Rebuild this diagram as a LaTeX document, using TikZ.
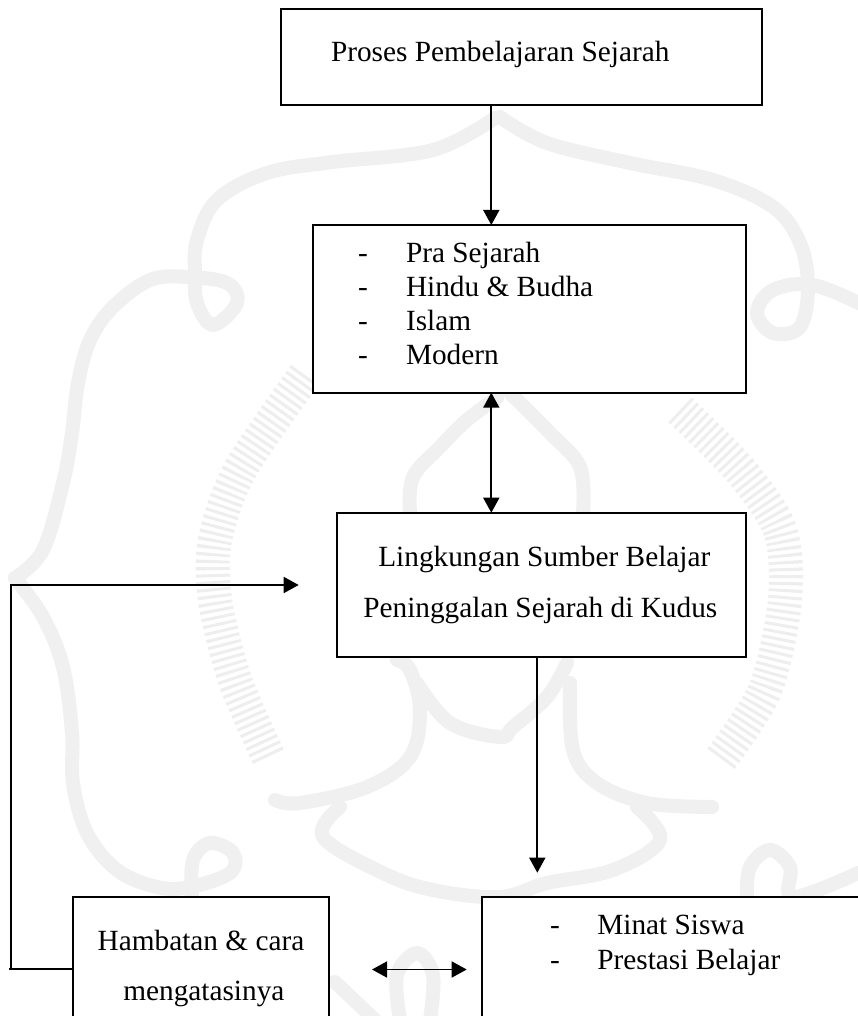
\documentclass[tikz,border=0pt]{standalone}
\usepackage{fontspec}
\setmainfont{Liberation Serif}
\usetikzlibrary{arrows.meta}
\definecolor{wmgray}{HTML}{F0F0F0}
\definecolor{wmtext}{HTML}{EEEEEE}
\tikzset{
  boxn/.style={draw=black,line width=1.9pt,fill=white,inner sep=0pt,outer sep=0pt},
  lbl/.style={anchor=base west,inner sep=0pt,outer sep=0pt,font=\fontsize{29.3}{34}\selectfont},
  conn/.style={draw=black,line width=1.7pt},
  headed/.style={-{Triangle[width=16pt,length=15pt]}},
  twohead/.style={{Triangle[width=16pt,length=15pt]}-{Triangle[width=16pt,length=15pt]}},
  wm/.style={draw=wmgray,line width=14pt,line cap=round,line join=round},
  wmt/.style={draw=wmtext,line width=34pt,dash pattern=on 3pt off 4pt}
}
\begin{document}
\begin{tikzpicture}[x=1pt,y=-1pt]
\useasboundingbox (0,0) rectangle (858,1016);
\fill[white] (0,0) rectangle (858,1016);
% watermark
\draw[wm] plot[smooth,tension=0.6] coordinates {(495,118)(433,150)(333,162)(267,173)(217,200)(197,240)(195,273)(197,303)(213,325)(237,303)(227,283)(187,277)(150,280)(113,307)(90,340)(78,383)(72,433)(63,483)(43,550)(15,578)};
\draw[wm] plot[smooth,tension=0.6] coordinates {(15,578)(43,617)(63,667)(72,733)(73,783)(87,833)(117,870)(157,887)(190,887)(230,873)(233,853)(210,843)(193,860)(192,897)};
\draw[wm] plot[smooth,tension=0.6] coordinates {(500,117)(547,143)(630,163)(713,180)(773,207)(800,243)(808,287)(800,327)(773,333)(757,313)(773,290)(813,285)(865,306)};
\draw[wm] plot[smooth,tension=0.6] coordinates {(410,512)(413,477)(440,447)(467,420)(497,398)};
\draw[wm] plot[smooth,tension=0.6] coordinates {(510,393)(550,433)(580,467)(583,512)};
\draw[wm] plot[smooth,tension=0.6] coordinates {(275,800)(300,803)(367,787)(410,757)(420,710)(410,670)(397,660)};
\draw[wm] plot[smooth,tension=0.6] coordinates {(417,683)(450,723)(500,737)(513,727)(547,697)(567,663)};
\draw[wm] plot[smooth,tension=0.6] coordinates {(570,683)(573,750)(597,783)(647,803)(712,807)};
\draw[wm] plot[smooth,tension=0.6] coordinates {(340,807)(323,837)(383,873)(433,890)(500,897)(547,883)(613,870)(660,840)(637,807)};
\draw[wm] plot[smooth,tension=0.6] coordinates {(747,897)(750,867)(770,850)(790,867)(793,897)(858,873)};
\draw[wm] plot[smooth,tension=0.6] coordinates {(400,1020)(397,975)(417,953)(433,975)(430,1020)};
\draw[wm] (335,982) -- (375,1020);
\draw[wmt] plot[smooth] coordinates {(305,375)(240,470)(215,540)(215,600)(235,680)(270,760)};
\draw[wmt] plot[smooth] coordinates {(680,410)(740,470)(780,530)(785,600)(765,690)(720,760)};
% boxes
\node[boxn,minimum width=481pt,minimum height=96pt] (b1) at (521.5,57) {};
\node[boxn,minimum width=432.7pt,minimum height=167.7pt] (b2) at (529.35,308.85) {};
\node[boxn,minimum width=408.7pt,minimum height=144pt] (b3) at (541.35,584.7) {};
\node[boxn,minimum width=256.3pt,minimum height=200pt] (b4) at (201.15,997) {};
\node[boxn,minimum width=420pt,minimum height=200pt] (b5) at (691.7,997) {};
% texts
\node[lbl] (t1) at (331,61.7) {Proses Pembelajaran Sejarah};
\node[lbl] (d1) at (358,262) {-};
\node[lbl] (l1) at (406,262) {Pra Sejarah};
\node[lbl] (d2) at (358,296) {-};
\node[lbl] (l2) at (406,296) {Hindu \& Budha};
\node[lbl] (d3) at (358,330) {-};
\node[lbl] (l3) at (406,330) {Islam};
\node[lbl] (d4) at (358,364) {-};
\node[lbl] (l4) at (406,364) {Modern};
\node[lbl] (t3a) at (378.3,566.7) {Lingkungan Sumber Belajar};
\node[lbl] (t3b) at (363.3,617.3) {Peninggalan Sejarah di Kudus};
\node[lbl] (t4a) at (97.7,950) {Hambatan \& cara};
\node[lbl] (t4b) at (123.3,1000.7) {mengatasinya};
\node[lbl] (d5) at (550,934) {-};
\node[lbl] (t5a) at (597.3,934) {Minat Siswa};
\node[lbl] (d6) at (550,969) {-};
\node[lbl] (t5b) at (597.3,969) {Prestasi Belajar};
% connectors
\coordinate (xa) at (491.3,0);
\coordinate (xb) at (537.3,0);
\coordinate (tipb) at (537.3,872.7);
\coordinate (ya) at (0,969.3);
\coordinate (stub) at (9,969.3);
\coordinate (cl) at (11,969.3);
\coordinate (cu) at (11,585);
\coordinate (tipl) at (298.7,585);
\coordinate (da) at (372,969.5);
\coordinate (db) at (466.7,969.5);
\draw[conn,headed] (b1.south -| xa) -- (b2.north -| xa);
\draw[conn,twohead] (b2.south -| xa) -- (b3.north -| xa);
\draw[conn,headed] (b3.south -| xb) -- (tipb);
\draw[conn] (b4.west |- ya) -- (stub);
\draw[conn,headed] (cl) -- (cu) -- (tipl);
\draw[conn,twohead] (da) -- (db);
\end{tikzpicture}
\end{document}
